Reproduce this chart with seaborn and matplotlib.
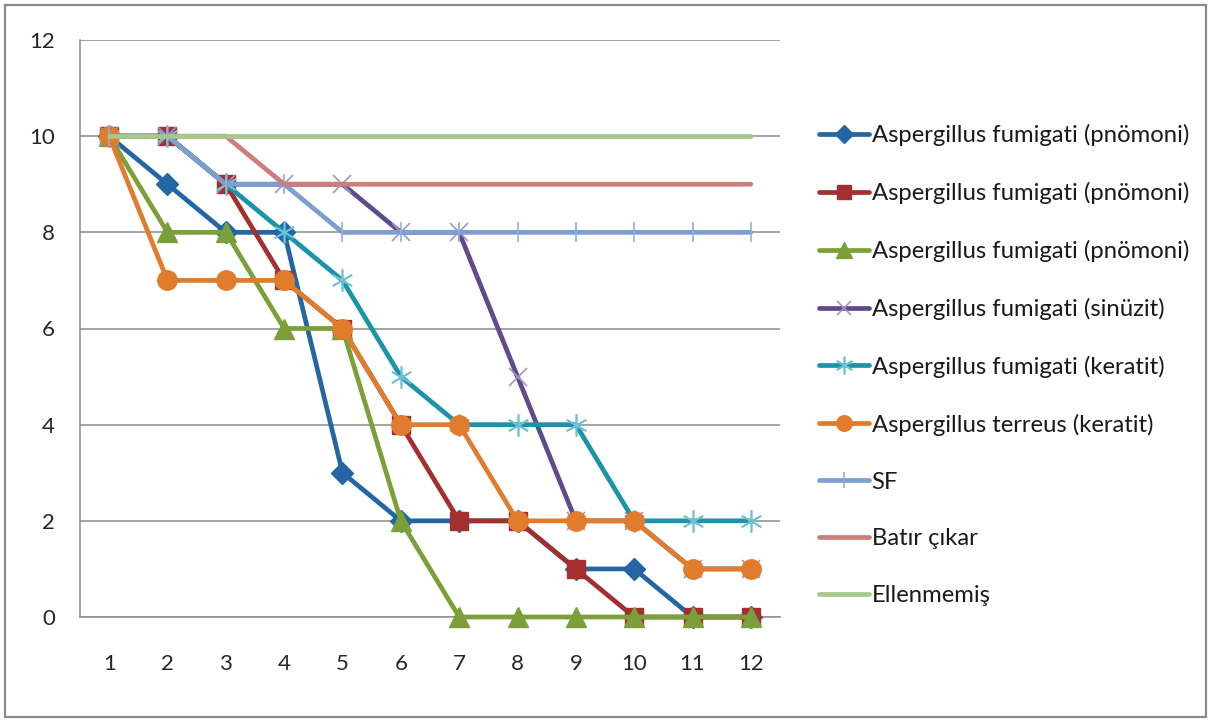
import matplotlib
matplotlib.use("Agg")
import matplotlib.pyplot as plt
import matplotlib.patches as mpatches
from matplotlib.lines import Line2D
import seaborn as sns

# Days of follow-up
days = [1, 2, 3, 4, 5, 6, 7, 8, 9, 10, 11, 12]

# Scores per isolate / group
a_fum_pn1 = [10, 9, 8, 8, 3, 2, 2, 2, 1, 1, 0, 0]
a_fum_pn2 = [10, 10, 9, 7, 6, 4, 2, 2, 1, 0, 0, 0]
a_fum_pn3 = [10, 8, 8, 6, 6, 2, 0, 0, 0, 0, 0, 0]
a_fum_sin = [10, 10, 9, 9, 9, 8, 8, 5, 2, 2, 1, 1]
a_fum_ker = [10, 10, 9, 8, 7, 5, 4, 4, 4, 2, 2, 2]
a_ter_ker = [10, 7, 7, 7, 6, 4, 4, 2, 2, 2, 1, 1]
sf = [10, 10, 9, 9, 8, 8, 8, 8, 8, 8, 8, 8]
batir = [10, 10, 10, 9, 9, 9, 9, 9, 9, 9, 9, 9]
ellen = [10, 10, 10, 10, 10, 10, 10, 10, 10, 10, 10, 10]

labels = [
    "Aspergillus fumigati (pnömoni)",
    "Aspergillus fumigati (pnömoni)",
    "Aspergillus fumigati (pnömoni)",
    "Aspergillus fumigati (sinüzit)",
    "Aspergillus fumigati (keratit)",
    "Aspergillus terreus (keratit)",
    "SF",
    "Batır çıkar",
    "Ellenmemiş",
]
series = [a_fum_pn1, a_fum_pn2, a_fum_pn3, a_fum_sin, a_fum_ker,
          a_ter_ker, sf, batir, ellen]

sns.set_style("white")
plt.rcParams["font.family"] = ["Lato", "DejaVu Sans"]

# line colour, marker, marker face, marker edge, marker size, edge width
styles = [
    ("#2366A3", "D", "#2366A3", "#2366A3", 11, 1.0),
    ("#A3302F", "s", "#A3302F", "#A3302F", 13, 1.0),
    ("#7BA03A", "^", "#7BA03A", "#7BA03A", 14, 1.0),
    ("#5F4A8B", "x", "none", "#A593C8", 13, 1.2),
    ("#1B93A8", (6, 2, 0), "none", "#6FC0D4", 16, 1.2),
    ("#E07C2C", "o", "#E07C2C", "#E07C2C", 14, 1.0),
    ("#7C9FCF", "|", "none", "#8EAFDA", 15, 1.2),
    ("#CC7E7D", None, "none", "none", 0, 0),
    ("#A6C88B", None, "none", "none", 0, 0),
]

fig = plt.figure(figsize=(12.12, 7.21), dpi=100)
ax = fig.add_axes([80 / 1212, 1 - 617 / 721, 700 / 1212, 577 / 721])

handles = []
for vals, lab, (col, mk, mfc, mec, ms, mew) in zip(series, labels, styles):
    sns.lineplot(x=days, y=vals, ax=ax, color=col, linewidth=3.4,
                 marker=mk, markersize=ms, markerfacecolor=mfc,
                 markeredgecolor=mec, markeredgewidth=mew,
                 legend=False, solid_joinstyle="round", zorder=3,
                 clip_on=False)
    handles.append(Line2D([0], [0], color=col, linewidth=3.4, marker=mk,
                          markersize=ms * 0.8 if ms else 0,
                          markerfacecolor=mfc, markeredgecolor=mec,
                          markeredgewidth=mew))

ax.set_xlim(0.5, 12.5)
ax.set_ylim(0, 12)
ax.set_yticks([0, 2, 4, 6, 8, 10, 12])
ax.set_xticks(days)
ax.set_xticks([d + 0.5 for d in days], minor=True)
ax.grid(axis="y", color="#8c8c8c", linewidth=1.1, zorder=0)
ax.grid(axis="x", visible=False)
for s in ("top", "right"):
    ax.spines[s].set_visible(False)
for s in ("left", "bottom"):
    ax.spines[s].set_color("#8c8c8c")
    ax.spines[s].set_linewidth(1.1)
    ax.spines[s].set_zorder(1)
ax.tick_params(axis="y", which="major", length=6, width=1.1, color="#8c8c8c",
               direction="out", pad=12, labelsize=16, labelcolor="#262626")
ax.tick_params(axis="x", which="major", length=0, pad=27, labelsize=16,
               labelcolor="#262626")
ax.tick_params(axis="x", which="minor", length=7, width=1.1, color="#8c8c8c",
               direction="out")
ax.set_xlabel("")
ax.set_ylabel("")

leg = ax.legend(handles, labels, loc="upper left",
                bbox_to_anchor=(819 / 1212, 1 - 124 / 721),
                bbox_transform=fig.transFigure, frameon=False,
                fontsize=17.2, handlelength=2.1, handletextpad=0.1,
                labelspacing=1.5, borderpad=0, borderaxespad=0)
for t in leg.get_texts():
    t.set_color("#1a1a1a")

fig.patches.append(mpatches.Rectangle((5 / 1212, 4 / 721), 1201 / 1212, 712 / 721,
                                      transform=fig.transFigure, fill=False,
                                      edgecolor="#8a8a8a", linewidth=1.6))

fig.savefig("out.png", dpi=100)
